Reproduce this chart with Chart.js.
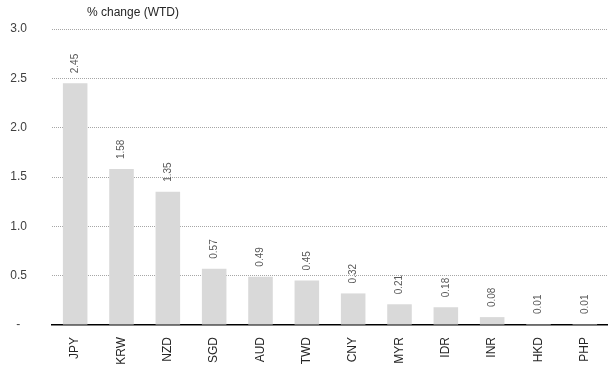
<!DOCTYPE html>
<html>
<head>
<meta charset="utf-8">
<script src="https://cdn.jsdelivr.net/npm/chart.js@4.4.0/dist/chart.umd.min.js"></script>
<style>
  html, body { margin: 0; padding: 0; background: #fff; }
  #wrap { width: 608px; height: 371px; }
</style>
</head>
<body>
<div id="wrap"><canvas id="myChart" width="608" height="371"></canvas></div>
<script>
var currencies = ['JPY', 'KRW', 'NZD', 'SGD', 'AUD', 'TWD', 'CNY', 'MYR', 'IDR', 'INR', 'HKD', 'PHP'];
var changeWtd = [2.45, 1.58, 1.35, 0.57, 0.49, 0.45, 0.32, 0.21, 0.18, 0.08, 0.01, 0.01];
var yTicks = [0, 0.5, 1.0, 1.5, 2.0, 2.5, 3.0];
var titleText = '% change (WTD)';

var font = 'Arial, "Liberation Sans", sans-serif';

// value labels above the bars, rotated
var barLabels = {
  id: 'barLabels',
  afterDatasetsDraw: function(chart) {
    var ctx = chart.ctx;
    var meta = chart.getDatasetMeta(0);
    ctx.save();
    ctx.font = '10px ' + font;
    ctx.fillStyle = '#595959';
    ctx.textAlign = 'left';
    ctx.textBaseline = 'middle';
    meta.data.forEach(function(bar, i) {
      ctx.save();
      ctx.translate(bar.x, bar.y - 10);
      ctx.rotate(-Math.PI / 2);
      ctx.fillText(changeWtd[i].toFixed(2), 0, 0);
      ctx.restore();
    });
    ctx.restore();
  }
};

// title in the upper left
var topTitle = {
  id: 'topTitle',
  afterDraw: function(chart) {
    var ctx = chart.ctx;
    ctx.save();
    ctx.font = '12px ' + font;
    ctx.fillStyle = '#262626';
    ctx.textAlign = 'left';
    ctx.textBaseline = 'middle';
    ctx.fillText(titleText, 87, 13);
    ctx.restore();
  }
};

var ctx = document.getElementById('myChart').getContext('2d');
var chart = new Chart(ctx, {
  type: 'bar',
  data: {
    labels: currencies,
    datasets: [{
      data: changeWtd,
      backgroundColor: '#d9d9d9',
      borderWidth: 0,
      barPercentage: 0.53,
      categoryPercentage: 1
    }]
  },
  options: {
    responsive: false,
    animation: false,
    layout: { padding: { top: 29, right: 0, bottom: 0, left: 0 } },
    plugins: {
      legend: { display: false },
      tooltip: { enabled: false }
    },
    scales: {
      x: {
        grid: { display: false, drawTicks: false },
        border: { display: true, color: '#000', width: 1.5 },
        ticks: {
          minRotation: 90,
          maxRotation: 90,
          autoSkip: false,
          padding: 12,
          color: '#262626',
          font: { family: font, size: 12 }
        },
        afterFit: function(scale) {
          scale.height = 46;
          scale.paddingLeft = 0;
          scale.paddingRight = 0;
        }
      },
      y: {
        min: 0,
        max: 3,
        afterBuildTicks: function(scale) {
          scale.ticks = yTicks.map(function(v) { return { value: v }; });
        },
        grid: {
          drawTicks: false,
          lineWidth: 1,
          color: function(c) { return c.tick && c.tick.value === 0 ? 'rgba(0,0,0,0)' : '#a6a6a6'; }
        },
        border: { display: false, dash: [1, 1] },
        ticks: {
          padding: 25,
          color: '#404040',
          font: { family: font, size: 12 },
          callback: function(v) { return v === 0 ? '-  ' : v.toFixed(1); }
        },
        afterFit: function(scale) {
          scale.width = 52;
          scale.paddingTop = 0;
          scale.paddingBottom = 0;
        }
      }
    }
  },
  plugins: [barLabels, topTitle]
});
</script>
</body>
</html>
